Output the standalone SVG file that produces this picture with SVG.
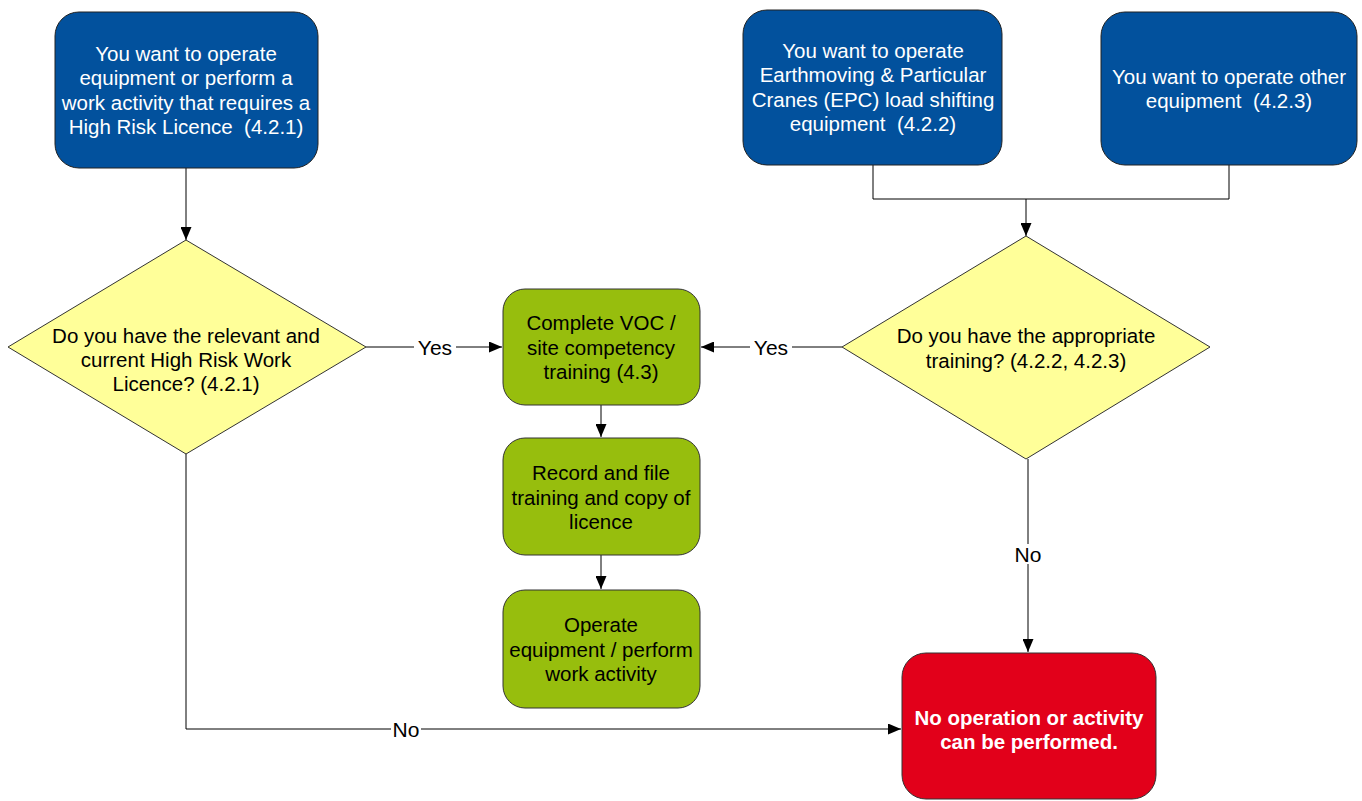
<svg xmlns="http://www.w3.org/2000/svg" width="1362" height="801" viewBox="0 0 1362 801">
<defs>
<marker id="ah" viewBox="0 0 13 11" refX="13" refY="5.5" markerWidth="13" markerHeight="11" markerUnits="userSpaceOnUse" orient="auto">
<path d="M0,0 L13,5.5 L0,11 Z" fill="#000"/>
</marker>
</defs>
<style>
text{font-family:"Liberation Sans",Arial,sans-serif;font-size:20.5px;text-anchor:middle;dominant-baseline:central;white-space:pre}
.blue rect{fill:#02519D;stroke:#222;stroke-width:1}
.blue text{fill:#fff}
.green rect{fill:#97BE0D;stroke:#333;stroke-width:1}
.green text{fill:#000}
.dec polygon{fill:#FFFF99;stroke:#333;stroke-width:1}
.dec text{fill:#000}
.red rect{fill:#E2001A;stroke:#333;stroke-width:1}
.red text{fill:#fff;font-weight:bold}
.conn path{fill:none;stroke:#000;stroke-width:1}
.conn .m{marker-end:url(#ah)}
.lbl{fill:#000;font-size:21px}
.lblbg{fill:#fff}
</style>
<rect width="1362" height="801" fill="#fff"/>

<g id="connectors" class="conn">
<path class="m" d="M186,168 V240"/>
<path class="m" d="M366,347 H502"/>
<path class="m" d="M842,347 H701"/>
<path d="M873,165 V199 H1229 V165"/>
<path class="m" d="M1026,199 V236"/>
<path class="m" d="M601,405 V437"/>
<path class="m" d="M601,555 V589"/>
<path class="m" d="M1028,459 V652"/>
<path class="m" d="M186,454 V729 H901"/>
<rect class="lblbg" x="414" y="337" width="42" height="20"/>
<text class="lbl" x="435" y="347">Yes</text>
<rect class="lblbg" x="750" y="337" width="42" height="20"/>
<text class="lbl" x="771" y="347">Yes</text>
<rect class="lblbg" x="1013" y="544" width="30" height="20"/>
<text class="lbl" x="1028" y="554">No</text>
<rect class="lblbg" x="391" y="719" width="30" height="20"/>
<text class="lbl" x="406" y="729">No</text>
</g>

<g id="start-hrl" class="blue">
<rect x="55" y="12" width="263" height="156" rx="24"/>
<text x="186" y="53">You want to operate</text>
<text x="186" y="77.5">equipment or perform a</text>
<text x="186" y="102">work activity that requires a</text>
<text x="186" y="126.5">High Risk Licence  (4.2.1)</text>
</g>

<g id="start-epc" class="blue">
<rect x="743" y="10" width="259" height="155" rx="24"/>
<text x="873" y="50">You want to operate</text>
<text x="873" y="74.5">Earthmoving &amp; Particular</text>
<text x="873" y="99">Cranes (EPC) load shifting</text>
<text x="873" y="123.5">equipment  (4.2.2)</text>
</g>

<g id="start-other" class="blue">
<rect x="1101" y="12" width="256" height="153" rx="24"/>
<text x="1229" y="76">You want to operate other</text>
<text x="1229" y="100.5">equipment  (4.2.3)</text>
</g>

<g id="dec-hrl" class="dec">
<polygon points="186,240 366,347 186,454 8,347"/>
<text x="186" y="335">Do you have the relevant and</text>
<text x="186" y="359">current High Risk Work</text>
<text x="186" y="383">Licence? (4.2.1)</text>
</g>

<g id="dec-training" class="dec">
<polygon points="1026,236 1210,347 1026,459 842,347"/>
<text x="1026" y="335">Do you have the appropriate</text>
<text x="1026" y="360">training? (4.2.2, 4.2.3)</text>
</g>

<g id="voc" class="green">
<rect x="503" y="289" width="197" height="116" rx="22"/>
<text x="601" y="322">Complete VOC /</text>
<text x="601" y="347">site competency</text>
<text x="601" y="371">training (4.3)</text>
</g>

<g id="record" class="green">
<rect x="503" y="438" width="197" height="117" rx="22"/>
<text x="601" y="472">Record and file</text>
<text x="601" y="497">training and copy of</text>
<text x="601" y="521">licence</text>
</g>

<g id="operate" class="green">
<rect x="503" y="590" width="197" height="118" rx="22"/>
<text x="601" y="624">Operate</text>
<text x="601" y="649">equipment / perform</text>
<text x="601" y="673">work activity</text>
</g>

<g id="stop" class="red">
<rect x="902" y="653" width="254" height="146" rx="24"/>
<text x="1029" y="717">No operation or activity</text>
<text x="1029" y="741">can be performed.</text>
</g>
</svg>
